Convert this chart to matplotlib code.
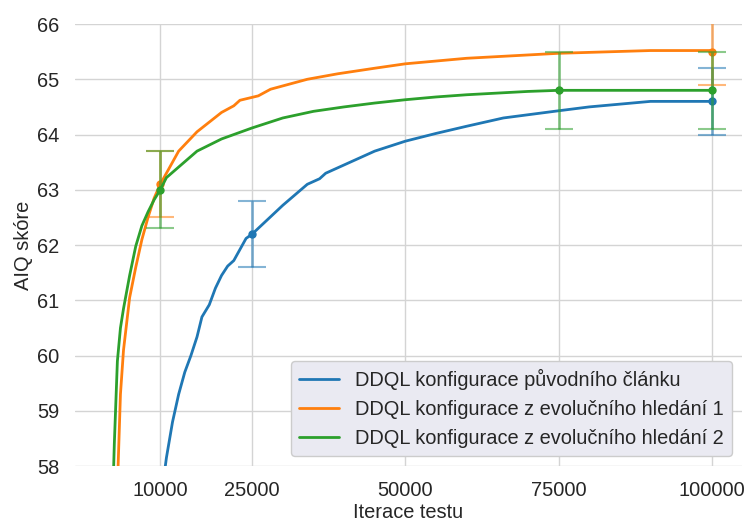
import matplotlib
matplotlib.use('Agg')
import matplotlib.pyplot as plt
import seaborn as sns

# blue - puvodni clanek
x_orig = [9000, 10000, 11000, 12000, 13000, 14000, 15000, 16000, 16800, 18000, 19000, 20000,
          21000, 22000, 24000, 25000, 30000, 34000, 36000, 37000, 40000, 45000, 50000, 55000,
          60000, 66000, 75000, 80000, 90000, 100000]
y_orig = [56.0, 57.3, 58.15, 58.8, 59.3, 59.7, 60.0, 60.34, 60.7, 60.92, 61.22, 61.45,
          61.62, 61.72, 62.12, 62.2, 62.72, 63.1, 63.2, 63.3, 63.45, 63.7, 63.88, 64.02,
          64.15, 64.3, 64.43, 64.5, 64.6, 64.6]

# orange - evolucni hledani 1
x_evo1 = [2500, 3000, 3500, 4000, 5000, 6000, 7000, 8000, 9000, 10000, 13000, 16000, 20000,
          22000, 23000, 26000, 28000, 34000, 39000, 45000, 50000, 60000, 75000, 90000, 100000]
y_evo1 = [55.5, 57.6, 59.3, 60.1, 61.05, 61.6, 62.1, 62.5, 62.85, 63.1, 63.7, 64.05, 64.4,
          64.52, 64.62, 64.7, 64.82, 65.0, 65.1, 65.2, 65.28, 65.38, 65.47, 65.52, 65.52]

# green - evolucni hledani 2
x_evo2 = [2000, 2500, 3000, 3500, 4000, 5000, 6000, 7000, 8000, 9000, 10000, 11000, 16000,
          20000, 25000, 30000, 35000, 40000, 45000, 50000, 55000, 60000, 65000, 70000, 75000, 100000]
y_evo2 = [56.5, 58.4, 59.9, 60.5, 60.85, 61.45, 61.98, 62.35, 62.6, 62.82, 63.0, 63.22, 63.7,
          63.92, 64.12, 64.3, 64.42, 64.5, 64.57, 64.63, 64.68, 64.72, 64.75, 64.78, 64.8, 64.8]

# chybove useky
err_x_orig = [25000, 100000]
err_y_orig = [62.2, 64.6]
err_orig = [0.6, 0.6]
err_x_evo1 = [10000, 100000]
err_y_evo1 = [63.1, 65.5]
err_evo1 = [0.6, 0.6]
err_x_evo2 = [10000, 75000, 100000]
err_y_evo2 = [63.0, 64.8, 64.8]
err_evo2 = [0.7, 0.7, 0.7]

labels = ['DDQL konfigurace původního článku',
          'DDQL konfigurace z evolučního hledání 1',
          'DDQL konfigurace z evolučního hledání 2']
xticks = [10000, 25000, 50000, 75000, 100000]

sns.set_theme(style='whitegrid')
plt.rcParams['font.family'] = ['Liberation Sans', 'DejaVu Sans']

fig = plt.figure(figsize=(7.48, 5.22), dpi=100)
ax = fig.add_axes([0.100, 0.107, 0.892, 0.847])

colors = ['#1f77b4', '#ff7f0e', '#2ca02c']
series = [(x_orig, y_orig, err_x_orig, err_y_orig, err_orig),
          (x_evo1, y_evo1, err_x_evo1, err_y_evo1, err_evo1),
          (x_evo2, y_evo2, err_x_evo2, err_y_evo2, err_evo2)]

for (x, y, ex, ey, e), c, lab in zip(series, colors, labels):
    ax.plot(x, y, color=c, lw=2, label=lab)
    ax.errorbar(ex, ey, yerr=e, fmt='none', ecolor=c, elinewidth=2, capsize=10,
                capthick=1.5, alpha=0.55)
    ax.plot(ex, ey, 'o', color=c, ms=5)

ax.set_ylim(58, 66)
ax.set_xlim(-3950, 104950)
ax.set_xticks(xticks)
ax.set_xticklabels([str(t) for t in xticks])
ax.tick_params(labelsize=14.4, colors='#262626', pad=5)
ax.set_xlabel('Iterace testu', fontsize=14.4, color='#262626', labelpad=2)
ax.set_ylabel('AIQ skóre', fontsize=14.4, color='#262626', labelpad=3)
for s in ax.spines.values():
    s.set_visible(False)
ax.grid(True, color='#d4d4d4', lw=1)

leg = ax.legend(loc='lower right', fontsize=14.4, facecolor='#eaeaf2', edgecolor='#cccccc',
                framealpha=1, handlelength=2.0, borderaxespad=0.5)
for t in leg.get_texts():
    t.set_color('#262626')

fig.savefig('out.png', dpi=100)
